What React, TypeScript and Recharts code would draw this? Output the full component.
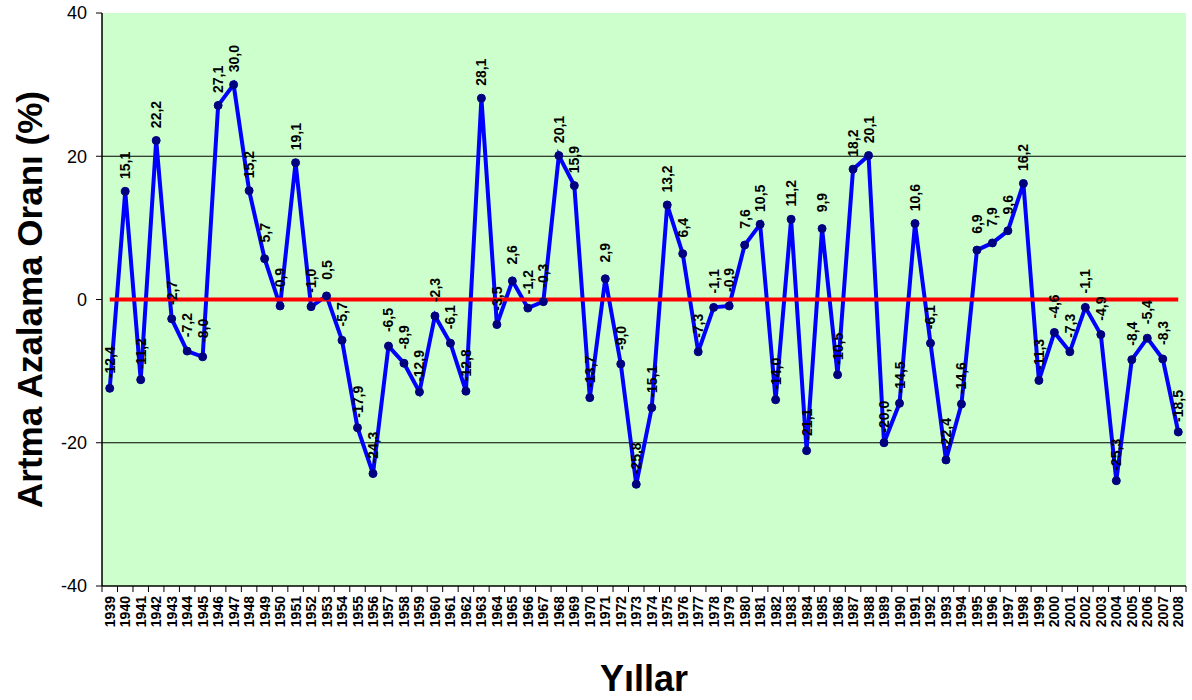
import { LineChart, Line, XAxis, YAxis, CartesianGrid, ReferenceLine, LabelList, Label } from 'recharts';

const YEARS = [
  1939, 1940, 1941, 1942, 1943, 1944, 1945, 1946, 1947, 1948,
  1949, 1950, 1951, 1952, 1953, 1954, 1955, 1956, 1957, 1958,
  1959, 1960, 1961, 1962, 1963, 1964, 1965, 1966, 1967, 1968,
  1969, 1970, 1971, 1972, 1973, 1974, 1975, 1976, 1977, 1978,
  1979, 1980, 1981, 1982, 1983, 1984, 1985, 1986, 1987, 1988,
  1989, 1990, 1991, 1992, 1993, 1994, 1995, 1996, 1997, 1998,
  1999, 2000, 2001, 2002, 2003, 2004, 2005, 2006, 2007, 2008,
];

const RATES = [
  -12.4, 15.1, -11.2, 22.2, -2.7, -7.2, -8.0, 27.1, 30.0, 15.2,
  5.7, -0.9, 19.1, -1.0, 0.5, -5.7, -17.9, -24.3, -6.5, -8.9,
  -12.9, -2.3, -6.1, -12.8, 28.1, -3.5, 2.6, -1.2, -0.3, 20.1,
  15.9, -13.7, 2.9, -9.0, -25.8, -15.1, 13.2, 6.4, -7.3, -1.1,
  -0.9, 7.6, 10.5, -14.0, 11.2, -21.1, 9.9, -10.5, 18.2, 20.1,
  -20.0, -14.5, 10.6, -6.1, -22.4, -14.6, 6.9, 7.9, 9.6, 16.2,
  -11.3, -4.6, -7.3, -1.1, -4.9, -25.3, -8.4, -5.4, -8.3, -18.5,
];

const Y_TICKS = [-40, -20, 0, 20, 40];
const GRID_VALUES = [-20, 20];

const data = YEARS.map((y, i) => ({ year: String(y), rate: RATES[i] }));

const FONT = '"Liberation Sans", Arial, sans-serif';
const PLOT_W = 1084;
const BAND = PLOT_W / YEARS.length;

const fmt = (v: number) => v.toFixed(1).replace('.', ',');

function YearTick(props: any) {
  const { x, y, payload, index } = props;
  const left = x - BAND / 2;
  return (
    <g>
      <line x1={left} x2={left} y1={y - 6} y2={y} stroke="#000" />
      {index === YEARS.length - 1 && (
        <line x1={x + BAND / 2} x2={x + BAND / 2} y1={y - 6} y2={y} stroke="#000" />
      )}
      <text
        x={x}
        y={y + 4}
        transform={`rotate(-90 ${x} ${y + 4})`}
        textAnchor="end"
        dominantBaseline="central"
        fontSize={14}
        fontWeight="bold"
        fontFamily={FONT}
        fill="#000"
      >
        {payload.value}
      </text>
    </g>
  );
}

// labels sit rotated, centred a fixed distance above each point
function ValueLabel(props: any) {
  const { x, y, value } = props;
  const ty = y - 26;
  return (
    <text
      x={x}
      y={ty}
      transform={`rotate(-90 ${x} ${ty})`}
      textAnchor="middle"
      dominantBaseline="central"
      fontSize={14}
      fontWeight="bold"
      fontFamily={FONT}
      fill="#000"
    >
      {fmt(value)}
    </text>
  );
}

export default function App() {
  return (
    <div style={{ position: 'absolute', left: 0, top: 0, background: '#fff' }}>
      <LineChart
        width={1192}
        height={700}
        data={data}
        margin={{ top: 13, right: 6, left: 0, bottom: 0 }}
      >
        <CartesianGrid horizontal={false} vertical={false} fill="#CCFFCC" />
        {GRID_VALUES.map((v) => (
          <ReferenceLine key={v} y={v} stroke="#000" strokeWidth={1} />
        ))}
        <XAxis
          dataKey="year"
          interval={0}
          height={114}
          padding={{ left: BAND / 2, right: BAND / 2 }}
          tickLine={false}
          tickSize={6}
          tickMargin={0}
          axisLine={{ stroke: '#000', strokeWidth: 1.5 }}
          tick={<YearTick />}
        >
          <Label
            value="Yıllar"
            position="insideBottom"
            offset={9}
            style={{ fontSize: 36, fontWeight: 'bold', fontFamily: FONT, fill: '#000' }}
          />
        </XAxis>
        <YAxis
          width={102}
          domain={[-40, 40]}
          ticks={Y_TICKS}
          tickSize={6}
          tickMargin={9}
          axisLine={{ stroke: '#000', strokeWidth: 1.5 }}
          tickLine={{ stroke: '#000' }}
          tick={{ fontSize: 18, fill: '#000', fontFamily: FONT }}
        >
          <Label
            value="Artma Azalama Oranı (%)"
            angle={-90}
            position="insideLeft"
            offset={30}
            style={{ textAnchor: 'middle', fontSize: 35, fontWeight: 'bold', fontFamily: FONT, fill: '#000' }}
          />
        </YAxis>
        <Line
          type="linear"
          dataKey="rate"
          stroke="#0000FF"
          strokeWidth={4}
          dot={{ r: 4, fill: '#000080', stroke: '#000080', strokeWidth: 1 }}
          isAnimationActive={false}
        >
          <LabelList dataKey="rate" content={<ValueLabel />} />
        </Line>
        <ReferenceLine
          segment={[
            { x: String(YEARS[0]), y: 0 },
            { x: String(YEARS[YEARS.length - 1]), y: 0 },
          ]}
          stroke="#FF0000"
          strokeWidth={4}
        />
      </LineChart>
    </div>
  );
}
